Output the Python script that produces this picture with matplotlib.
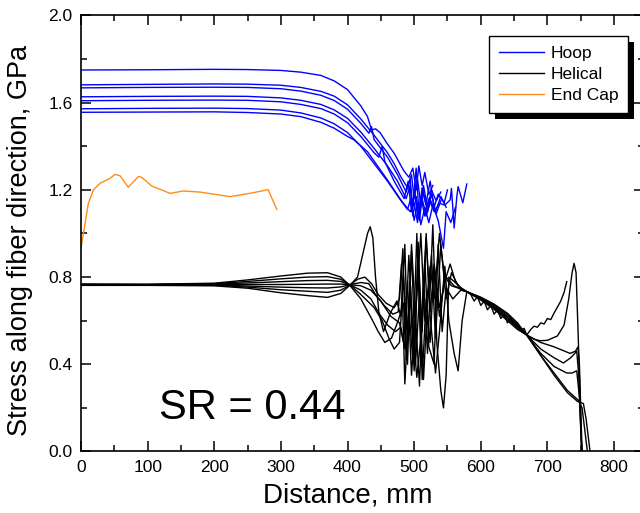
import numpy as np
import matplotlib
matplotlib.use("Agg")
import matplotlib.pyplot as plt
from matplotlib.patches import Rectangle
from matplotlib.transforms import IdentityTransform
from matplotlib.ticker import MultipleLocator

plt.rcParams['font.family'] = ['Liberation Sans', 'DejaVu Sans']

# ---- data (distance in mm, stress in GPa) ----
hoop1_x = [0, 100, 200, 250, 300, 330, 360, 380, 400, 420, 430, 436, 442, 449, 460, 470, 484, 492,
           498, 503, 507, 512, 516, 522, 528]
hoop1_y = [1.750, 1.751, 1.753, 1.752, 1.748, 1.740, 1.725, 1.700, 1.660, 1.585, 1.536, 1.475, 1.48, 1.462,
           1.41, 1.368, 1.29, 1.258, 1.30, 1.20, 1.31, 1.22, 1.28, 1.18, 1.22]
hoop2_x = [0, 100, 200, 250, 300, 330, 360, 380, 400, 420, 440, 460, 470, 480, 490,
           496, 500, 505, 510, 514, 520, 526, 533, 540]
hoop2_y = [1.682, 1.684, 1.686, 1.685, 1.680, 1.670, 1.652, 1.630, 1.590, 1.525, 1.45, 1.37, 1.32, 1.26, 1.21,
           1.27, 1.16, 1.25, 1.13, 1.22, 1.12, 1.20, 1.15, 1.19]
hoop3_x = [0, 100, 200, 250, 300, 330, 360, 380, 400, 420, 432, 436, 440, 460, 475, 488,
           494, 498, 503, 507, 512, 518, 524, 530, 536, 545, 550]
hoop3_y = [1.668, 1.670, 1.671, 1.670, 1.664, 1.653, 1.634, 1.610, 1.570, 1.505, 1.46, 1.49, 1.43, 1.35, 1.27,
           1.19, 1.25, 1.12, 1.30, 1.10, 1.21, 1.14, 1.24, 1.12, 1.18, 1.14, 1.20]
hoop4_x = [0, 100, 200, 250, 300, 330, 360, 380, 400, 420, 440, 460, 475, 488,
           494, 498, 503, 508, 513, 520, 526, 533, 540]
hoop4_y = [1.627, 1.629, 1.630, 1.629, 1.622, 1.611, 1.592, 1.567, 1.528, 1.465, 1.39, 1.31, 1.24, 1.16,
           1.22, 1.08, 1.17, 1.06, 1.19, 1.10, 1.18, 1.09, 1.15]
hoop5_x = [0, 100, 200, 250, 300, 330, 360, 380, 400, 420, 440, 447, 452, 456, 470, 485,
           491, 496, 501, 506, 512, 518, 525, 532, 540, 548]
hoop5_y = [1.609, 1.611, 1.612, 1.611, 1.604, 1.592, 1.573, 1.548, 1.508, 1.445, 1.37, 1.35, 1.40, 1.33, 1.24,
           1.16, 1.24, 1.10, 1.19, 1.07, 1.16, 1.08, 1.15, 1.10, 1.17, 1.12]
hoop6_x = [0, 100, 200, 250, 300, 330, 360, 380, 400, 420, 440, 460, 478, 490,
           495, 500, 505, 510, 516, 522, 528, 536, 544, 548, 555, 562]
hoop6_y = [1.572, 1.574, 1.575, 1.573, 1.566, 1.553, 1.530, 1.503, 1.463, 1.40, 1.32, 1.24, 1.16, 1.11,
           1.16, 1.06, 1.14, 1.04, 1.12, 1.05, 1.13, 1.06, 0.932, 1.10, 1.05, 1.12]
hoop7_x = [0, 100, 200, 250, 300, 330, 360, 380, 400, 410, 430, 445, 460, 480, 494,
           500, 505, 510, 516, 522, 530, 538, 546, 554, 556, 560, 564, 566, 573, 579]
hoop7_y = [1.556, 1.557, 1.558, 1.555, 1.548, 1.536, 1.51, 1.483, 1.445, 1.429, 1.375, 1.31, 1.245, 1.154, 1.10,
           1.14, 1.05, 1.17, 1.08, 1.16, 1.10, 1.139, 1.13, 1.154, 1.207, 1.025, 1.169, 1.215, 1.141, 1.227]

helical1_x = [0, 100, 200, 250, 300, 340, 370, 390, 404, 420, 436, 446, 456, 466, 476, 484, 490, 496, 502, 510,
              516, 524, 530, 538, 546, 554, 562, 572, 579, 600, 620, 640, 655, 669, 690, 710, 734, 742, 746,
              748, 750, 752]
helical1_y = [0.768, 0.767, 0.772, 0.787, 0.805, 0.818, 0.820, 0.800, 0.760, 0.70, 0.61, 0.55, 0.50, 0.52, 0.60,
              0.68, 0.40, 0.95, 0.62, 1.00, 0.60, 0.85, 0.70, 1.00, 0.78, 0.86, 0.78, 0.74, 0.733, 0.705, 0.672,
              0.630, 0.585, 0.534, 0.50, 0.48, 0.45, 0.46, 0.48, 0.40, 0.20, 0.0]
helical2_x = [0, 100, 200, 250, 300, 340, 370, 390, 404, 420, 440, 452, 462, 470, 478, 484, 490, 496, 502, 508,
              514, 520, 526, 532, 540, 548, 556, 566, 579, 600, 620, 640, 655, 669, 690, 710, 724, 735, 744,
              747, 750, 752]
helical2_y = [0.767, 0.766, 0.770, 0.780, 0.792, 0.800, 0.802, 0.790, 0.763, 0.72, 0.66, 0.60, 0.52, 0.47, 0.50,
              0.80, 0.52, 0.92, 0.40, 0.72, 0.33, 0.68, 0.90, 0.52, 0.95, 0.70, 0.82, 0.76, 0.733, 0.703, 0.668,
              0.622, 0.578, 0.534, 0.47, 0.43, 0.406, 0.43, 0.46, 0.35, 0.10, 0.0]
helical3_x = [0, 100, 200, 250, 300, 340, 370, 390, 404, 420, 435, 448, 460, 472, 480, 486, 492, 498, 504, 510,
              518, 524, 532, 538, 546, 552, 560, 566, 572, 579, 600, 620, 640, 655, 669, 690, 710, 729, 737,
              744, 748, 751, 752]
helical3_y = [0.766, 0.766, 0.768, 0.773, 0.779, 0.784, 0.785, 0.780, 0.764, 0.74, 0.70, 0.63, 0.58, 0.55, 0.57,
              0.47, 0.90, 0.55, 0.34, 0.52, 1.00, 0.62, 0.36, 0.55, 0.85, 0.60, 0.45, 0.37, 0.60, 0.733, 0.700,
              0.663, 0.615, 0.572, 0.534, 0.45, 0.39, 0.36, 0.36, 0.37, 0.25, 0.05, 0.0]
helical4_x = [0, 100, 200, 250, 300, 340, 370, 390, 404, 420, 435, 450, 465, 478, 484, 490, 496, 502, 508, 514,
              520, 528, 534, 540, 544, 548, 552, 560, 570, 579, 585, 590, 595, 600, 605, 610, 615, 620, 625,
              630, 635, 640, 645, 650, 655, 660, 665, 669, 675, 680, 685, 690, 695, 700, 705, 710, 714, 720,
              725, 729]
helical4_y = [0.765, 0.765, 0.766, 0.766, 0.766, 0.767, 0.768, 0.768, 0.765, 0.76, 0.74, 0.69, 0.62, 0.59, 0.50,
              0.78, 0.35, 0.62, 0.30, 0.80, 0.45, 1.04, 0.50, 0.28, 0.20, 0.35, 0.80, 0.78, 0.75, 0.733, 0.72,
              0.69, 0.71, 0.67, 0.69, 0.65, 0.67, 0.63, 0.65, 0.61, 0.63, 0.59, 0.61, 0.575, 0.59, 0.555, 0.565,
              0.534, 0.56, 0.575, 0.57, 0.59, 0.585, 0.61, 0.605, 0.635, 0.657, 0.69, 0.73, 0.779]
helical5_x = [0, 100, 200, 250, 300, 340, 370, 390, 404, 420, 432, 442, 455, 468, 476, 481, 486, 492, 498, 504,
              510, 516, 522, 530, 536, 542, 548, 558, 570, 579, 600, 620, 640, 655, 669, 690, 710, 730, 746,
              752, 756, 760]
helical5_y = [0.764, 0.764, 0.764, 0.759, 0.754, 0.751, 0.750, 0.755, 0.766, 0.775, 0.77, 0.72, 0.67, 0.63, 0.64,
              0.86, 0.31, 0.66, 0.42, 1.00, 0.45, 0.88, 0.48, 0.40, 0.95, 0.55, 0.75, 0.70, 0.74, 0.733, 0.698,
              0.658, 0.608, 0.566, 0.534, 0.44, 0.36, 0.28, 0.236, 0.20, 0.10, 0.0]
helical6_x = [0, 100, 200, 250, 300, 340, 370, 390, 404, 415, 426, 436, 446, 458, 470, 478, 483, 488, 494, 500,
              506, 512, 518, 524, 530, 538, 548, 560, 579, 600, 620, 640, 655, 669, 690, 710, 730, 745, 754,
              758, 762, 764]
helical6_y = [0.763, 0.763, 0.762, 0.754, 0.742, 0.735, 0.730, 0.740, 0.765, 0.79, 0.80, 0.77, 0.72, 0.68, 0.66,
              0.70, 0.93, 0.42, 0.72, 0.37, 0.96, 0.33, 0.70, 0.50, 0.86, 0.66, 0.80, 0.76, 0.733, 0.695, 0.652,
              0.600, 0.560, 0.534, 0.44, 0.35, 0.27, 0.23, 0.22, 0.15, 0.05, 0.0]
helical7_x = [0, 100, 200, 250, 300, 340, 370, 390, 404, 415, 424, 430, 434, 438, 442, 447, 454, 464, 474, 480,
              486, 490, 494, 500, 506, 512, 518, 524, 530, 538, 546, 556, 566, 579, 600, 620, 640, 655, 669,
              680, 689, 700, 715, 725, 732, 737, 740, 743, 746, 749, 751]
helical7_y = [0.762, 0.762, 0.760, 0.749, 0.728, 0.715, 0.707, 0.725, 0.764, 0.80, 0.92, 1.00, 1.031, 0.98, 0.80,
              0.64, 0.55, 0.634, 0.69, 0.62, 0.95, 0.50, 0.78, 0.42, 0.92, 0.55, 0.98, 0.64, 0.85, 0.62, 0.80,
              0.76, 0.75, 0.733, 0.708, 0.676, 0.634, 0.590, 0.534, 0.515, 0.508, 0.510, 0.530, 0.580, 0.700,
              0.820, 0.863, 0.820, 0.550, 0.250, 0.0]

endcap_x = [0, 11, 18.5, 28.5, 43.5, 51, 58.5, 71, 86, 91, 106, 133.6, 153.6, 178.6, 223.6, 258.6, 278.7, 281,
            293.7]
endcap_y = [0.932, 1.138, 1.20, 1.230, 1.253, 1.271, 1.265, 1.212, 1.261, 1.258, 1.218, 1.184, 1.195, 1.19,
            1.169, 1.187, 1.20, 1.20, 1.111]

hoop_x = [hoop1_x, hoop2_x, hoop3_x, hoop4_x, hoop5_x, hoop6_x, hoop7_x]
hoop_y = [hoop1_y, hoop2_y, hoop3_y, hoop4_y, hoop5_y, hoop6_y, hoop7_y]
helical_x = [helical1_x, helical2_x, helical3_x, helical4_x, helical5_x, helical6_x, helical7_x]
helical_y = [helical1_y, helical2_y, helical3_y, helical4_y, helical5_y, helical6_y, helical7_y]

fig = plt.figure(figsize=(6.4, 5.13), dpi=100)
ax = fig.add_axes([0.1266, 0.1199, 0.8797, 0.8499])

lw = 1.0
for i, (xs, ys) in enumerate(zip(helical_x, helical_y)):
    ax.plot(xs, ys, color='black', lw=lw, label='Helical' if i == 0 else None)
for i, (xs, ys) in enumerate(zip(hoop_x, hoop_y)):
    ax.plot(xs, ys, color='#0000ff', lw=lw, label='Hoop' if i == 0 else None)
ax.plot(endcap_x, endcap_y, color='#ff8c1a', lw=lw, label='End Cap')

ax.set_xlim(0, 845)
ax.set_ylim(0, 2.0)
ax.xaxis.set_major_locator(MultipleLocator(100))
ax.xaxis.set_minor_locator(MultipleLocator(50))
ax.yaxis.set_major_locator(MultipleLocator(0.4))
ax.yaxis.set_minor_locator(MultipleLocator(0.2))
ax.yaxis.set_major_formatter(matplotlib.ticker.FormatStrFormatter('%.1f'))
ax.tick_params(which='both', direction='in', top=True, right=True, width=1.1, labelsize=12.5, pad=6)
ax.tick_params(which='major', length=7)
ax.tick_params(which='minor', length=4)
for s in ax.spines.values():
    s.set_linewidth(1.2)

ax.set_xlabel('Distance, mm', fontsize=20)
ax.xaxis.set_label_coords(0.474, -0.07)
ax.set_ylabel('Stress along fiber direction, GPa', fontsize=19.5)
ax.yaxis.set_label_coords(-0.085, 0.483)

ax.text(257, 0.2, 'SR = 0.44', fontsize=30, ha='center', va='center')

handles, labels = ax.get_legend_handles_labels()
order = [labels.index('Hoop'), labels.index('Helical'), labels.index('End Cap')]
leg = ax.legend([handles[i] for i in order], [labels[i] for i in order],
                loc='upper left', bbox_to_anchor=(0.7247, 0.953), borderaxespad=0,
                fontsize=12.5, frameon=True, fancybox=False, framealpha=1, edgecolor='black',
                handlelength=2.6, handletextpad=0.4, labelspacing=0.35, borderpad=0.55)
leg.get_frame().set_linewidth(1.0)

# black drop shadow behind the legend box
fig.canvas.draw()
bb = leg.get_frame().get_window_extent()
ax.add_patch(Rectangle((bb.x0 + 6, bb.y0 - 6), bb.width, bb.height, transform=IdentityTransform(),
                       facecolor='black', edgecolor='none', zorder=4.5, clip_on=False))

fig.savefig('out.png', dpi=100)
